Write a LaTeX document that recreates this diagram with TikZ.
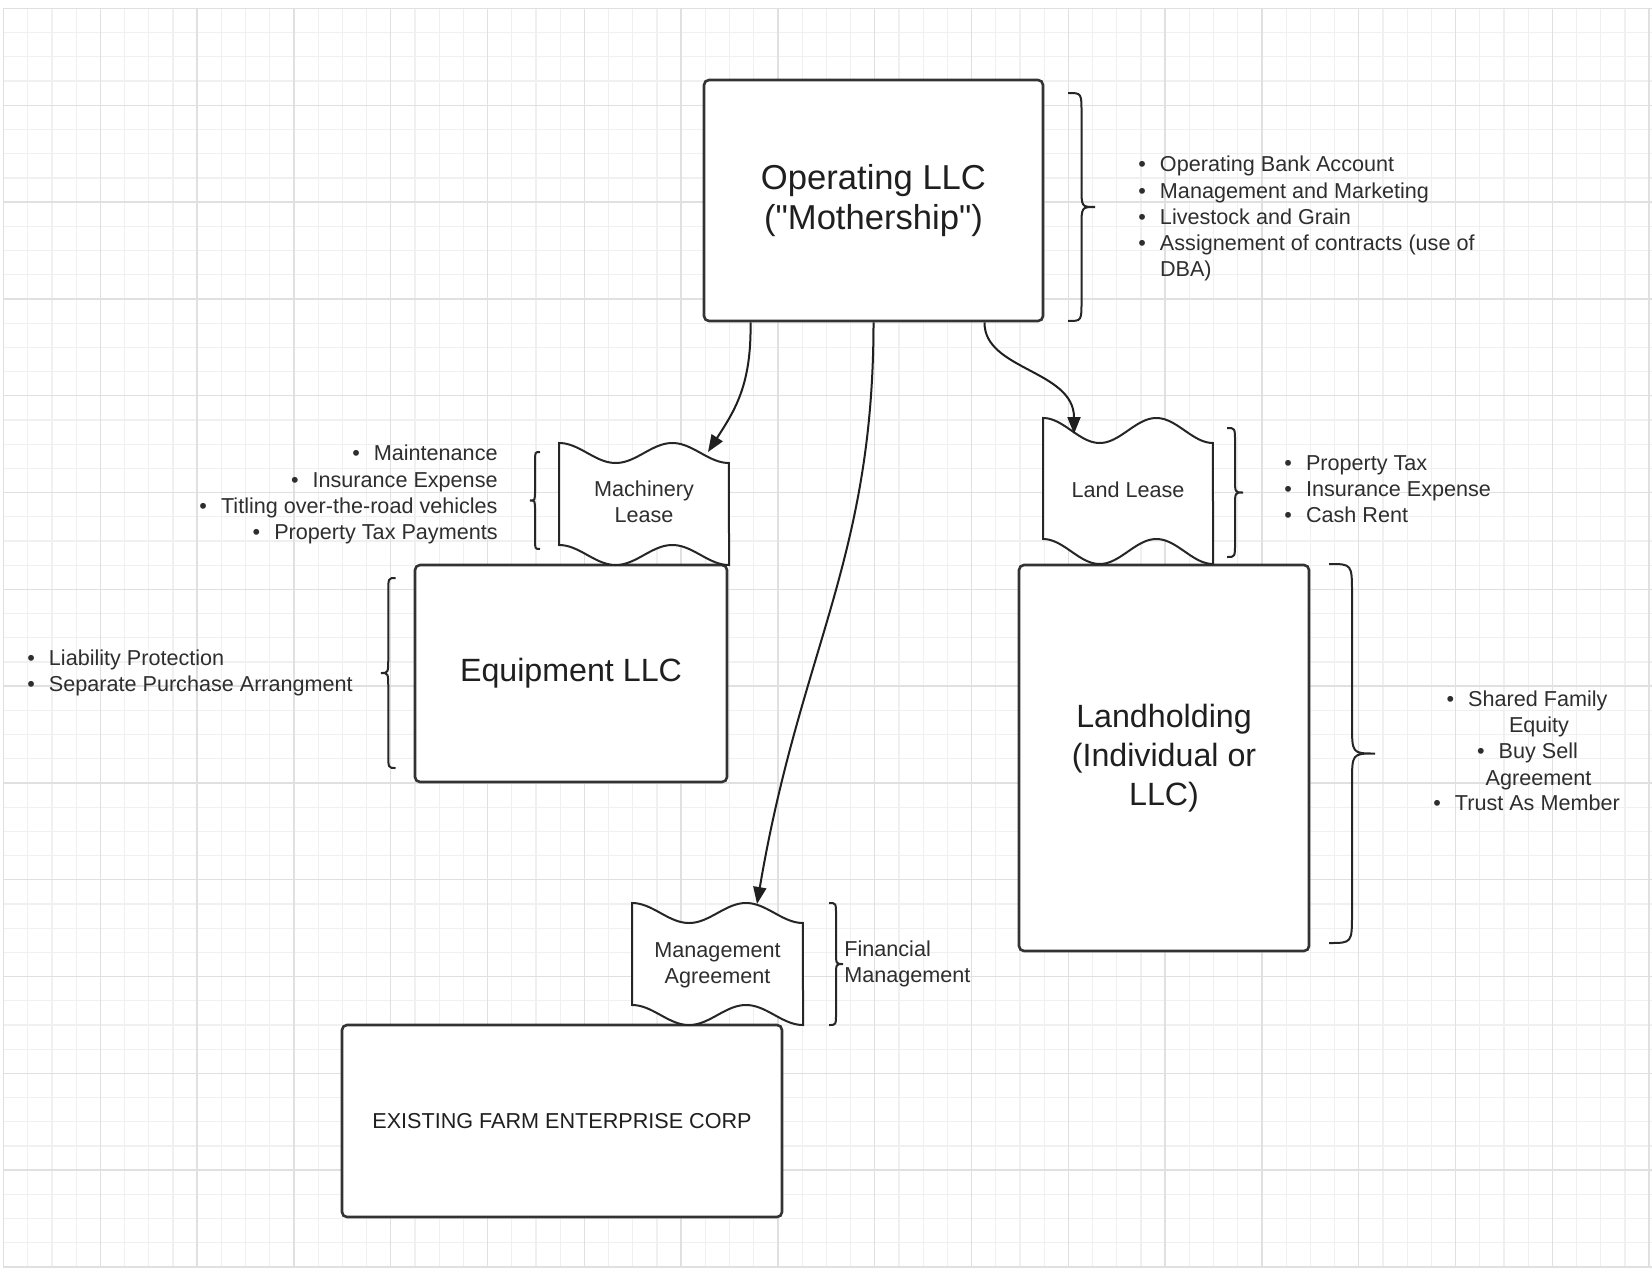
\documentclass[tikz,border=0pt]{standalone}
\usepackage{fontspec}
\setmainfont{Liberation Sans}
\newfontfamily\qfont{Liberation Sans}
\usetikzlibrary{arrows.meta,calc}
\newcommand{\bul}{\makebox[10.8pt][l]{\textbullet}}
\newcommand{\dq}{{\qfont"}}
\newcommand{\mybrace}[5]{% #1 x end, #2 x tip, #3 y top, #4 y bottom, #5 radius
  \draw[brc] (#1,#3) .. controls ({(#1+#2)/2},#3) .. ({(#1+#2)/2},{#3+#5})
    -- ({(#1+#2)/2},{(#3+#4)/2-#5}) .. controls ({(#1+#2)/2},{(#3+#4)/2}) .. (#2,{(#3+#4)/2})
    .. controls ({(#1+#2)/2},{(#3+#4)/2}) .. ({(#1+#2)/2},{(#3+#4)/2+#5})
    -- ({(#1+#2)/2},{#4-#5}) .. controls ({(#1+#2)/2},#4) .. (#1,#4);}
\newcommand{\tapeshp}[5]{% #1 x left, #2 x right, #3 top mean, #4 bottom mean, #5 amplitude
  \filldraw[tapeline] plot[domain=0:1,samples=61,variable=\qq] ({#1+(#2-#1)*\qq},{#3-#5*cos(540*\qq)})
    -- plot[domain=1:0,samples=61,variable=\qq] ({#1+(#2-#1)*\qq},{#4-#5*cos(540*\qq)}) -- cycle;}
\tikzset{
  gridminor/.style={draw=black!6, line width=0.6pt},
  gridmajor/.style={draw=black!12, line width=0.7pt},
  box/.style={draw=black!80, line width=1.3pt, fill=white, rounded corners=2.5pt, inner sep=0pt, align=center, text=black!88},
  tapeline/.style={draw=black!85, line width=1pt, fill=white},
  small/.style={font=\fontsize{10.8}{13.15}\selectfont, text=black!82, inner sep=0pt},
  bigf/.style={font=\fontsize{17.3}{20}\selectfont},
  midf/.style={font=\fontsize{16.1}{19.35}\selectfont},
  conn/.style={draw=black!88, line width=1pt, -{Triangle[length=8.5pt,width=6.5pt]}},
  brc/.style={draw=black!85, line width=1pt},
}
\begin{document}
\begin{tikzpicture}[x=0.5pt,y=-0.5pt]
\useasboundingbox (0,0) rectangle (1652,1268);
\fill[white] (0,0) rectangle (1652,1268);
% grid
\foreach \i in {0,...,68} \draw[gridminor] ({3.5+24.2*\i},8.5) -- ({3.5+24.2*\i},1268);
\foreach \j in {0,...,52} \draw[gridminor] (3.5,{8.5+24.2*\j}) -- (1652,{8.5+24.2*\j});
\foreach \i in {0,...,17} \draw[gridmajor] ({3.5+96.8*\i},8.5) -- ({3.5+96.8*\i},1268);
\foreach \j in {0,...,13} \draw[gridmajor] (3.5,{8.5+96.8*\j}) -- (1652,{8.5+96.8*\j});

% boxes
\node[box, bigf, minimum width=169.5pt, minimum height=120.5pt] (op) at (873.5,200.5) {Operating LLC\\(\dq Mothership\dq)};
\node[box, midf, minimum width=156pt, minimum height=108.5pt] (eq) at (571,673.5) {Equipment LLC};
\node[box, midf, minimum width=145pt, minimum height=193pt] (lh) at (1164,758) {Landholding\\(Individual or\\LLC)};
\node[box, font=\fontsize{10.8}{13.15}\selectfont, minimum width=220pt, minimum height=96pt] (fe) at (562,1121) {EXISTING FARM ENTERPRISE CORP};

% tape shapes
\tapeshp{559}{729}{453}{555}{10}
\node[small, align=center] (ml) at (644,502) {Machinery\\Lease};
\tapeshp{1043}{1213}{430.5}{551.5}{12.5}
\node[small] (ll) at (1128,490) {Land Lease};
\tapeshp{632}{803}{913}{1015}{10}
\node[small, align=center] (ma) at (717.5,965.5) {Management\\Agreement};

\coordinate (mlT) at (708,452);
\coordinate (llT) at (1074,434);
\coordinate (maT) at (757,904);

% connectors
\draw[conn] ($(op.south west)!0.14!(op.south east)$) .. controls (751.5,385) and (735,410) .. (mlT);
\draw[conn] (op.south) .. controls (873.5,560) and (800,650) .. (maT);
\draw[conn] ($(op.south west)!0.825!(op.south east)$) .. controls (983.7,370) and (1074,370) .. (llT);

% braces
\mybrace{1068}{1095}{93}{321}{20}
\mybrace{540}{530}{452}{549}{10}
\mybrace{1227}{1243}{428}{557}{14}
\mybrace{395.5}{381}{578}{768}{15}
\mybrace{1329}{1375}{564}{943}{30}
\mybrace{829}{843}{903}{1025}{12}

% lists
\node[small, anchor=base west] (opl) at (1138,171.7) {\begin{tabular}[t]{@{}l@{}}\bul Operating Bank Account\\ \bul Management and Marketing\\ \bul Livestock and Grain\\ \bul Assignement of contracts (use of\\ \hspace*{10.8pt}DBA)\end{tabular}};
\node[small, anchor=base east] (mll) at (498,460.7) {\begin{tabular}[t]{@{}r@{}}\bul Maintenance\\ \bul Insurance Expense\\ \bul Titling over-the-road vehicles\\ \bul Property Tax Payments\end{tabular}};
\node[small, anchor=base west] (lll) at (1284,470) {\begin{tabular}[t]{@{}l@{}}\bul Property Tax\\ \bul Insurance Expense\\ \bul Cash Rent\end{tabular}};
\node[small, anchor=base west] (eql) at (27,665) {\begin{tabular}[t]{@{}l@{}}\bul Liability Protection\\ \bul Separate Purchase Arrangment\end{tabular}};
\node[small, anchor=base west] (fin) at (844,956) {\begin{tabular}[t]{@{}l@{}}Financial\\ Management\end{tabular}};
\node[small, anchor=base] (lh1) at (1527,706.7) {\bul Shared Family};
\node[small, anchor=base] (lh2) at (1539,732.7) {Equity};
\node[small, anchor=base] (lh3) at (1527.5,758) {\bul Buy Sell};
\node[small, anchor=base] (lh4) at (1538.5,785) {Agreement};
\node[small, anchor=base] (lh5) at (1526.5,810) {\bul Trust As Member};
\end{tikzpicture}
\end{document}
